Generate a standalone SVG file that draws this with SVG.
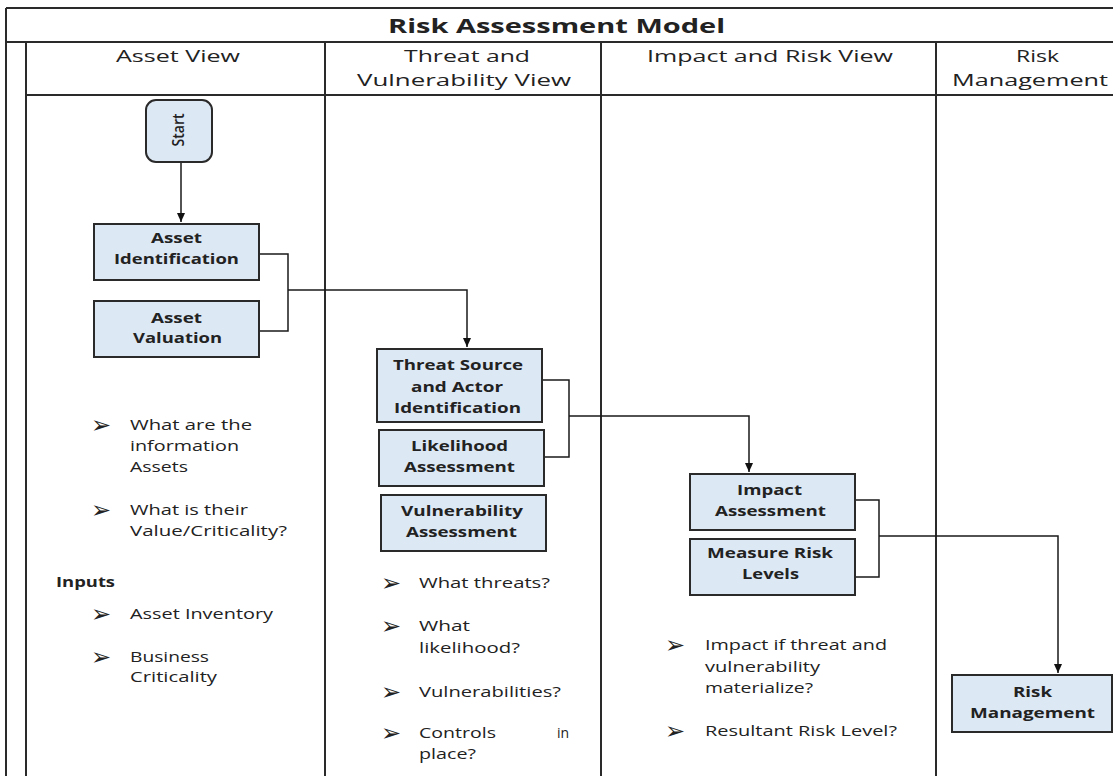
<svg xmlns="http://www.w3.org/2000/svg" width="1113" height="776" viewBox="0 0 1113 776">
<style>
.ln{stroke:#2a2a2a;stroke-width:2;fill:none}
.box{fill:#dde8f5;stroke:#2a2a2a;stroke-width:2}
.cn{stroke:#1a1a1a;stroke-width:1.5;fill:none}
.t{font-family:"Open Sans","Liberation Sans",sans-serif;fill:#222}
.b{font-size:14px;font-weight:bold}
.n{font-size:14px}
.h{font-size:16.5px}
.bl{font-family:"DejaVu Sans",sans-serif;font-size:24px;fill:#222}
</style>
<defs>
<marker id="ah" markerWidth="10" markerHeight="8" refX="9" refY="4" orient="auto" markerUnits="userSpaceOnUse">
<path d="M0,0 L9,4 L0,8 Z" fill="#111"/>
</marker>
</defs>
<rect width="1113" height="776" fill="#fff"/>
<g id="table">
<line class="ln" x1="6" y1="8" x2="1113" y2="8"/>
<line class="ln" x1="6" y1="8" x2="6" y2="776"/>
<line class="ln" x1="6" y1="42" x2="1113" y2="42"/>
<line class="ln" x1="26" y1="42" x2="26" y2="776"/>
<line class="ln" x1="26" y1="95" x2="1113" y2="95"/>
<line class="ln" x1="325" y1="42" x2="325" y2="776"/>
<line class="ln" x1="601" y1="42" x2="601" y2="776"/>
<line class="ln" x1="936" y1="42" x2="936" y2="776"/>
<text class="t" x="388" y="33" font-size="20" font-weight="bold" textLength="337" lengthAdjust="spacingAndGlyphs">Risk Assessment Model</text>
<text class="t h" x="116" y="62" textLength="124" lengthAdjust="spacingAndGlyphs">Asset View</text>
<text class="t h" x="404" y="62" textLength="126" lengthAdjust="spacingAndGlyphs">Threat and</text>
<text class="t h" x="357" y="86" textLength="214" lengthAdjust="spacingAndGlyphs">Vulnerability View</text>
<text class="t h" x="647" y="62" textLength="246" lengthAdjust="spacingAndGlyphs">Impact and Risk View</text>
<text class="t h" x="1016" y="62" textLength="43" lengthAdjust="spacingAndGlyphs">Risk</text>
<text class="t h" x="952" y="86" textLength="156" lengthAdjust="spacingAndGlyphs">Management</text>
</g>
<g id="connectors">
<line class="cn" x1="181" y1="163" x2="181" y2="222" marker-end="url(#ah)"/>
<polyline class="cn" points="259,254 288,254 288,331 259,331"/>
<polyline class="cn" points="288,290 467,290 467,347" marker-end="url(#ah)"/>
<polyline class="cn" points="542,380 569,380 569,457 544,457"/>
<polyline class="cn" points="569,416 749,416 749,472" marker-end="url(#ah)"/>
<polyline class="cn" points="853,500 879,500 879,577 853,577"/>
<polyline class="cn" points="879,536 1058,536 1058,673" marker-end="url(#ah)"/>
</g>
<g id="start">
<rect class="box" x="146" y="100" width="66" height="62" rx="10"/>
<text class="t" font-size="16" font-weight="600" transform="translate(184,130) rotate(-90)" text-anchor="middle" x="0" y="0" textLength="33" lengthAdjust="spacingAndGlyphs">Start</text>
</g>
<g id="asset-identification">
<rect class="box" x="94" y="224" width="165" height="56"/>
<text class="t b" x="151" y="243" textLength="51" lengthAdjust="spacingAndGlyphs">Asset</text>
<text class="t b" x="114" y="264" textLength="125" lengthAdjust="spacingAndGlyphs">Identification</text>
</g>
<g id="asset-valuation">
<rect class="box" x="94" y="301" width="165" height="56"/>
<text class="t b" x="151" y="323" textLength="51" lengthAdjust="spacingAndGlyphs">Asset</text>
<text class="t b" x="133" y="343" textLength="89" lengthAdjust="spacingAndGlyphs">Valuation</text>
</g>
<g id="threat-source">
<rect class="box" x="377" y="349" width="165" height="73"/>
<text class="t b" x="393" y="370" textLength="130" lengthAdjust="spacingAndGlyphs">Threat Source</text>
<text class="t b" x="411" y="392" textLength="92" lengthAdjust="spacingAndGlyphs">and Actor</text>
<text class="t b" x="394" y="413" textLength="127" lengthAdjust="spacingAndGlyphs">Identification</text>
</g>
<g id="likelihood">
<rect class="box" x="379" y="430" width="165" height="56"/>
<text class="t b" x="411" y="451" textLength="97" lengthAdjust="spacingAndGlyphs">Likelihood</text>
<text class="t b" x="404" y="472" textLength="111" lengthAdjust="spacingAndGlyphs">Assessment</text>
</g>
<g id="vulnerability">
<rect class="box" x="381" y="495" width="165" height="56"/>
<text class="t b" x="401" y="516" textLength="122" lengthAdjust="spacingAndGlyphs">Vulnerability</text>
<text class="t b" x="406" y="537" textLength="111" lengthAdjust="spacingAndGlyphs">Assessment</text>
</g>
<g id="impact">
<rect class="box" x="690" y="474" width="165" height="56"/>
<text class="t b" x="737" y="495" textLength="65" lengthAdjust="spacingAndGlyphs">Impact</text>
<text class="t b" x="715" y="516" textLength="111" lengthAdjust="spacingAndGlyphs">Assessment</text>
</g>
<g id="measure-risk">
<rect class="box" x="690" y="539" width="165" height="56"/>
<text class="t b" x="707" y="558" textLength="126" lengthAdjust="spacingAndGlyphs">Measure Risk</text>
<text class="t b" x="742" y="579" textLength="57" lengthAdjust="spacingAndGlyphs">Levels</text>
</g>
<g id="risk-management">
<rect class="box" x="952" y="675" width="160" height="57"/>
<text class="t b" x="1013" y="697" textLength="39" lengthAdjust="spacingAndGlyphs">Risk</text>
<text class="t b" x="970" y="718" textLength="125" lengthAdjust="spacingAndGlyphs">Management</text>
</g>
<g id="asset-notes">
<text class="bl" x="91" y="433">➢</text>
<text class="t n" x="130" y="430" textLength="122" lengthAdjust="spacingAndGlyphs">What are the</text>
<text class="t n" x="130" y="451" textLength="109" lengthAdjust="spacingAndGlyphs">information</text>
<text class="t n" x="130" y="472" textLength="58" lengthAdjust="spacingAndGlyphs">Assets</text>
<text class="bl" x="91" y="518">➢</text>
<text class="t n" x="130" y="515" textLength="118" lengthAdjust="spacingAndGlyphs">What is their</text>
<text class="t n" x="130" y="536" textLength="157" lengthAdjust="spacingAndGlyphs">Value/Criticality?</text>
<text class="t b" x="56" y="587" textLength="59" lengthAdjust="spacingAndGlyphs">Inputs</text>
<text class="bl" x="91" y="622">➢</text>
<text class="t n" x="130" y="619" textLength="143" lengthAdjust="spacingAndGlyphs">Asset Inventory</text>
<text class="bl" x="91" y="665">➢</text>
<text class="t n" x="130" y="662" textLength="79" lengthAdjust="spacingAndGlyphs">Business</text>
<text class="t n" x="130" y="682" textLength="87" lengthAdjust="spacingAndGlyphs">Criticality</text>
</g>
<g id="threat-notes">
<text class="bl" x="381" y="591">➢</text>
<text class="t n" x="419" y="588" textLength="131" lengthAdjust="spacingAndGlyphs">What threats?</text>
<text class="bl" x="381" y="634">➢</text>
<text class="t n" x="419" y="631" textLength="51" lengthAdjust="spacingAndGlyphs">What</text>
<text class="t n" x="419" y="653" textLength="101" lengthAdjust="spacingAndGlyphs">likelihood?</text>
<text class="bl" x="381" y="700">➢</text>
<text class="t n" x="419" y="697" textLength="142" lengthAdjust="spacingAndGlyphs">Vulnerabilities?</text>
<text class="bl" x="381" y="741">➢</text>
<text class="t n" x="419" y="738" textLength="77" lengthAdjust="spacingAndGlyphs">Controls</text>
<text class="t n" x="557" y="738">in</text>
<text class="t n" x="419" y="759" textLength="57" lengthAdjust="spacingAndGlyphs">place?</text>
</g>
<g id="impact-notes">
<text class="bl" x="665" y="653">➢</text>
<text class="t n" x="705" y="650" textLength="182" lengthAdjust="spacingAndGlyphs">Impact if threat and</text>
<text class="t n" x="705" y="672" textLength="115" lengthAdjust="spacingAndGlyphs">vulnerability</text>
<text class="t n" x="705" y="693" textLength="108" lengthAdjust="spacingAndGlyphs">materialize?</text>
<text class="bl" x="665" y="739">➢</text>
<text class="t n" x="705" y="736" textLength="192" lengthAdjust="spacingAndGlyphs">Resultant Risk Level?</text>
</g>
</svg>
